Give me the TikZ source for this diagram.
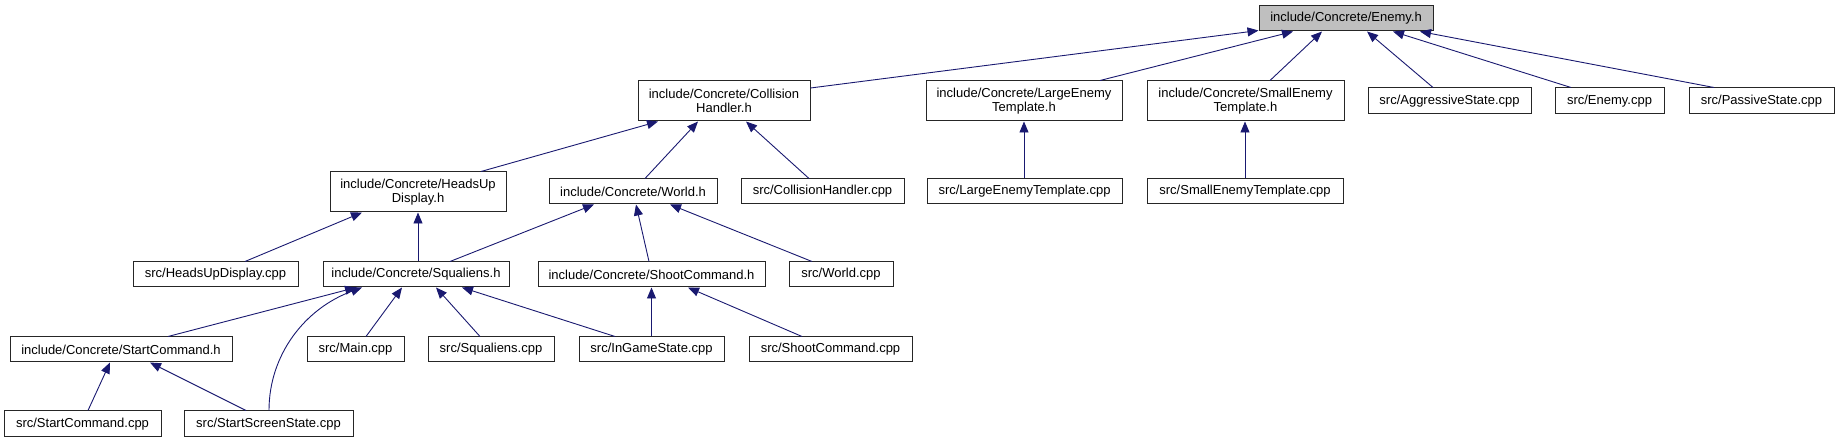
\documentclass[tikz,border=0pt]{standalone}
\usepackage{fontspec}
\setmainfont{Liberation Sans}
\usetikzlibrary{arrows.meta}
\definecolor{edgeblue}{HTML}{191970}
\definecolor{boxgray}{HTML}{BFBFBF}
\tikzset{
  box/.style={draw=black!85, line width=1pt, fill=white, rectangle, inner sep=0pt,
    align=center, font=\fontsize{13}{14.5}\selectfont},
  edge/.style={draw=edgeblue, line width=0.9pt,
    -{Triangle[length=11pt,width=9pt]}, shorten >=0pt}
}
\begin{document}
\begin{tikzpicture}[x=1pt,y=-1pt]
\useasboundingbox (0,0) rectangle (1840,443);
% row 0
\node[box, fill=boxgray, minimum width=174pt, minimum height=25pt] (enemy) at (1346,18.5) {include/Concrete/Enemy.h};
% row 1
\node[box, minimum width=172pt, minimum height=40pt] (colh) at (724,101) {include/Concrete/Collision\\Handler.h};
\node[box, minimum width=196pt, minimum height=40pt] (largeh) at (1024,101) {include/Concrete/LargeEnemy\\Template.h};
\node[box, minimum width=197pt, minimum height=40pt] (smallh) at (1245.5,101) {include/Concrete/SmallEnemy\\Template.h};
\node[box, minimum width=163pt, minimum height=26pt] (aggr) at (1449.5,101) {src/AggressiveState.cpp};
\node[box, minimum width=109pt, minimum height=26pt] (enemycpp) at (1609.5,101) {src/Enemy.cpp};
\node[box, minimum width=145pt, minimum height=26pt] (passive) at (1761.5,101) {src/PassiveState.cpp};
% row 2
\node[box, minimum width=176pt, minimum height=40pt] (hud) at (418,192) {include/Concrete/HeadsUp\\Display.h};
\node[box, minimum width=168pt, minimum height=25pt] (world) at (633,191.5) {include/Concrete/World.h};
\node[box, minimum width=163pt, minimum height=25pt] (colcpp) at (822.5,191.5) {src/CollisionHandler.cpp};
\node[box, minimum width=195pt, minimum height=25pt] (largecpp) at (1024.5,191.5) {src/LargeEnemyTemplate.cpp};
\node[box, minimum width=196pt, minimum height=25pt] (smallcpp) at (1245,191.5) {src/SmallEnemyTemplate.cpp};
% row 3
\node[box, minimum width=165pt, minimum height=25pt] (hudcpp) at (215.5,274.5) {src/HeadsUpDisplay.cpp};
\node[box, minimum width=186pt, minimum height=25pt] (squal) at (416,274.5) {include/Concrete/Squaliens.h};
\node[box, minimum width=227pt, minimum height=25pt] (shooth) at (651.5,274.5) {include/Concrete/ShootCommand.h};
\node[box, minimum width=104pt, minimum height=25pt] (worldcpp) at (841,274.5) {src/World.cpp};
% row 4
\node[box, minimum width=222pt, minimum height=25pt] (startcmdh) at (121,349.5) {include/Concrete/StartCommand.h};
\node[box, minimum width=97pt, minimum height=25pt] (maincpp) at (355.5,349.5) {src/Main.cpp};
\node[box, minimum width=126pt, minimum height=25pt] (squalcpp) at (491,349.5) {src/Squaliens.cpp};
\node[box, minimum width=145pt, minimum height=25pt] (ingame) at (651.5,349.5) {src/InGameState.cpp};
\node[box, minimum width=163pt, minimum height=25pt] (shootcpp) at (830.5,349.5) {src/ShootCommand.cpp};
% row 5
\node[box, minimum width=157pt, minimum height=26pt] (startcmdcpp) at (82.5,424) {src/StartCommand.cpp};
\node[box, minimum width=169pt, minimum height=26pt] (startscreen) at (268.5,424) {src/StartScreenState.cpp};
% edges to Enemy.h
\draw[edge] ([yshift=13pt]colh.east) -- ([yshift=1pt]enemy.south west);
\draw[edge] ([xshift=76pt]largeh.north) -- ([xshift=-53pt]enemy.south);
\draw[edge] ([xshift=24.5pt]smallh.north) -- ([xshift=-24pt]enemy.south);
\draw[edge] ([xshift=-16.5pt]aggr.north) -- ([xshift=21pt]enemy.south);
\draw[edge] ([xshift=-38.5pt]enemycpp.north) -- ([xshift=47pt]enemy.south);
\draw[edge] ([xshift=-47.5pt]passive.north) -- ([xshift=74pt]enemy.south);
% edges to CollisionHandler.h
\draw[edge] ([xshift=63pt]hud.north) -- ([xshift=-66pt]colh.south);
\draw[edge] ([xshift=12pt]world.north) -- ([xshift=-26pt]colh.south);
\draw[edge] ([xshift=-13.5pt]colcpp.north) -- ([xshift=22pt]colh.south);
% template edges
\draw[edge] ([xshift=-0.5pt]largecpp.north) -- (largeh.south);
\draw[edge] (smallcpp.north) -- ([xshift=-0.5pt]smallh.south);
% edges to HeadsUpDisplay.h
\draw[edge] ([xshift=29.5pt]hudcpp.north) -- ([xshift=-56pt]hud.south);
\draw[edge] ([xshift=2pt]squal.north) -- (hud.south);
% edges to World.h
\draw[edge] ([xshift=34pt]squal.north) -- ([xshift=-39pt]world.south);
\draw[edge] ([xshift=-2.5pt]shooth.north) -- ([xshift=3pt]world.south);
\draw[edge] ([xshift=-29pt]worldcpp.north) -- ([xshift=37pt]world.south);
% edges to Squaliens.h
\draw[edge] ([xshift=47pt]startcmdh.north) -- ([xshift=-60pt]squal.south);
\draw[edge] ([xshift=0.5pt]startscreen.north) .. controls +(0,-56) and +(-57,21) .. ([xshift=-54pt]squal.south);
\draw[edge] ([xshift=10.5pt]maincpp.north) -- ([xshift=-14pt]squal.south);
\draw[edge] ([xshift=-11pt]squalcpp.north) -- ([xshift=20pt]squal.south);
\draw[edge] ([xshift=-36.5pt]ingame.north) -- ([xshift=46pt]squal.south);
% edges to ShootCommand.h
\draw[edge] (ingame.north) -- (shooth.south);
\draw[edge] ([xshift=-28.5pt]shootcpp.north) -- ([xshift=36.5pt]shooth.south);
% edges to StartCommand.h
\draw[edge] ([xshift=5.5pt]startcmdcpp.north) -- ([xshift=-11pt]startcmdh.south);
\draw[edge] ([xshift=-22.5pt]startscreen.north) -- ([xshift=29pt]startcmdh.south);
\end{tikzpicture}
\end{document}
